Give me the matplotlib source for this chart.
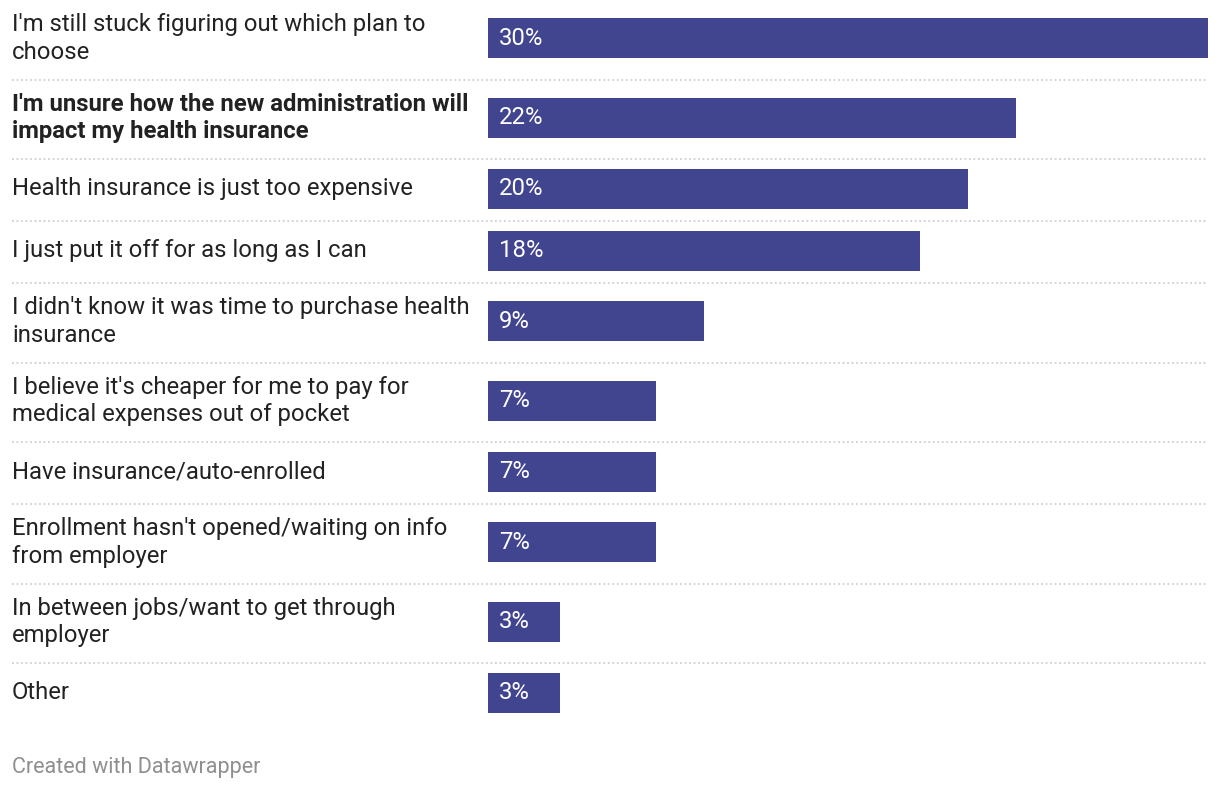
import matplotlib.pyplot as plt
from matplotlib.lines import Line2D

plt.rcParams["font.family"] = ["Roboto", "DejaVu Sans"]

labels = [
    "I'm still stuck figuring out which plan to\nchoose",
    "I'm unsure how the new administration will\nimpact my health insurance",
    "Health insurance is just too expensive",
    "I just put it off for as long as I can",
    "I didn't know it was time to purchase health\ninsurance",
    "I believe it's cheaper for me to pay for\nmedical expenses out of pocket",
    "Have insurance/auto-enrolled",
    "Enrollment hasn't opened/waiting on info\nfrom employer",
    "In between jobs/want to get through\nemployer",
    "Other",
]
values = [30, 22, 20, 18, 9, 7, 7, 7, 3, 3]
bold_rows = [1]

W, H = 1220, 790
BAR_COLOR = "#41448f"

fig = plt.figure(figsize=(W / 100, H / 100), dpi=100)
fig.patch.set_facecolor("white")

# bars axis: x 0..30 maps to 488..1208 px, y in pixels from top
x0, x1 = 488, 1208
ax = fig.add_axes([x0 / W, 0, (x1 - x0) / W, 1])
ax.set_xlim(0, 30)
ax.set_ylim(H, 0)
ax.axis("off")

# row layout
row_h = {1: 62, 2: 79.5}
tops = []
y = 0
for lab in labels:
    tops.append(y)
    y += row_h[lab.count("\n") + 1]
heights = [row_h[lab.count("\n") + 1] for lab in labels]
centers = [t + h / 2 - 1.3 for t, h in zip(tops, heights)]

ax.barh(centers, values, height=40, color=BAR_COLOR, linewidth=0)

px = 30 / (x1 - x0)  # data units per pixel
for c, v in zip(centers, values):
    ax.text(11 * px, c, f"{v}%", color="white", fontsize=17.2,
            va="center", ha="left")

for i, (lab, c) in enumerate(zip(labels, centers)):
    fig.text(12 / W, 1 - c / H, lab, fontsize=17.2, color="#222222",
             va="center", ha="left", linespacing=1.27,
             fontweight="bold" if i in bold_rows else "normal")

# dotted separators between rows
for t, h in zip(tops[:-1], heights[:-1]):
    yy = 1 - (t + h) / H
    fig.add_artist(Line2D([12 / W, x1 / W], [yy, yy], color="#d0d0d0",
                          linewidth=1.3, linestyle=(0, (1, 1.5))))

fig.text(12 / W, 1 - 767 / H, "Created with Datawrapper", fontsize=15.5,
         color="#8f8f8f", va="center", ha="left")

fig.savefig("out.png", dpi=100, facecolor="white")
